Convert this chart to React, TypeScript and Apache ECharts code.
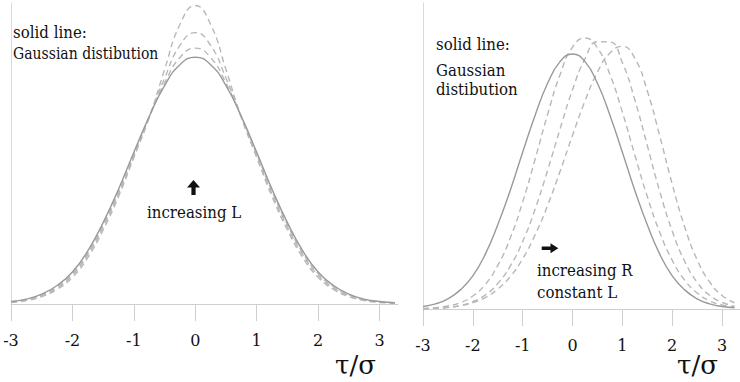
import React, { useEffect, useRef } from "react";
import * as echarts from "echarts";

// τ/σ sample positions
const taus = [-3, -2.75, -2.5, -2.25, -2, -1.75, -1.5, -1.25, -1, -0.75, -0.5, -0.25, 0, 0.25, 0.5, 0.75, 1, 1.25, 1.5, 1.75, 2, 2.25, 2.5, 2.75, 3, 3.25];

// left panel: solid Gaussian and dashed curves for increasing L
const leftSolid = [0.01, 0.02, 0.04, 0.075, 0.13, 0.215, 0.33, 0.465, 0.615, 0.76, 0.885, 0.97, 1.0, 0.97, 0.885, 0.76, 0.615, 0.465, 0.33, 0.215, 0.13, 0.075, 0.04, 0.02, 0.01, 0.005];
const leftDash1 = [0.009, 0.018, 0.037, 0.07, 0.123, 0.207, 0.321, 0.456, 0.607, 0.759, 0.895, 0.999, 1.037, 0.999, 0.895, 0.759, 0.607, 0.456, 0.321, 0.207, 0.123, 0.07, 0.037, 0.018, 0.009, 0.005];
const leftDash2 = [0.008, 0.016, 0.034, 0.065, 0.117, 0.199, 0.312, 0.447, 0.6, 0.758, 0.915, 1.048, 1.1, 1.048, 0.915, 0.758, 0.6, 0.447, 0.312, 0.199, 0.117, 0.065, 0.034, 0.016, 0.008, 0.004];
const leftDash3 = [0.006, 0.014, 0.03, 0.059, 0.108, 0.188, 0.3, 0.435, 0.594, 0.755, 0.95, 1.133, 1.21, 1.133, 0.95, 0.755, 0.594, 0.435, 0.3, 0.188, 0.108, 0.059, 0.03, 0.014, 0.006, 0.003];

// right panel: solid Gaussian and dashed curves for increasing R
const rightSolid = [0.01, 0.02, 0.04, 0.075, 0.13, 0.215, 0.33, 0.465, 0.615, 0.76, 0.885, 0.97, 1.0, 0.97, 0.885, 0.76, 0.615, 0.465, 0.33, 0.215, 0.13, 0.075, 0.04, 0.02, 0.01, 0.005];
const rightDash1 = [0.002, 0.005, 0.012, 0.025, 0.051, 0.097, 0.171, 0.278, 0.42, 0.588, 0.763, 0.919, 1.027, 1.063, 1.024, 0.92, 0.772, 0.604, 0.441, 0.301, 0.191, 0.113, 0.063, 0.032, 0.016, 0.007];
const rightDash2 = [0.001, 0.003, 0.006, 0.014, 0.029, 0.055, 0.1, 0.168, 0.265, 0.392, 0.544, 0.706, 0.86, 0.981, 1.048, 1.047, 0.966, 0.82, 0.641, 0.461, 0.306, 0.187, 0.105, 0.054, 0.026, 0.011];
const rightDash3 = [0.001, 0.003, 0.0065, 0.013, 0.025, 0.045, 0.078, 0.127, 0.197, 0.291, 0.406, 0.54, 0.681, 0.816, 0.929, 1.004, 1.03, 0.983, 0.855, 0.678, 0.49, 0.322, 0.193, 0.106, 0.053, 0.024];

const tickValues = [-3, -2, -1, 0, 1, 2, 3];

const SERIF = "DejaVu Serif";
const SOLID_COLOR = "#9a9a9a";
const DASH_COLOR = "#b8b8b8";
const AXIS_COLOR = "#cfcfcf";

function pairs(vals: number[]) {
  return taus.map((t, i) => [t, vals[i]]);
}

function lineSeries(vals: number[], idx: number, dashed: boolean) {
  return {
    type: "line",
    xAxisIndex: idx,
    yAxisIndex: idx,
    data: pairs(vals),
    smooth: true,
    showSymbol: false,
    silent: true,
    z: dashed ? 2 : 3,
    lineStyle: {
      color: dashed ? DASH_COLOR : SOLID_COLOR,
      width: 1.4,
      type: dashed ? [6, 4] : "solid",
    },
  };
}

function xAxisDef(idx: number, max: number, margin: number) {
  return {
    type: "value",
    gridIndex: idx,
    min: -3,
    max,
    interval: 1,
    axisLine: { show: true, onZero: false, lineStyle: { color: AXIS_COLOR, width: 1 } },
    axisTick: { show: true, length: 17, customValues: tickValues, lineStyle: { color: AXIS_COLOR, width: 1 } },
    axisLabel: {
      show: true,
      customValues: tickValues,
      margin,
      fontFamily: SERIF,
      fontSize: 16,
      color: "#111",
    },
    splitLine: { show: false },
  };
}

function yAxisDef(idx: number, max: number) {
  return {
    type: "value",
    gridIndex: idx,
    min: 0,
    max,
    axisLine: { show: true, onZero: false, lineStyle: { color: "#dadada", width: 1 } },
    axisTick: { show: false },
    axisLabel: { show: false },
    splitLine: { show: false },
  };
}

function txt(text: string, x: number, y: number, size = 15, sy = 1.15) {
  return {
    type: "text",
    x,
    y,
    scaleY: sy,
    silent: true,
    style: {
      text,
      fontFamily: SERIF,
      fontSize: size,
      fill: "#111",
      verticalAlign: "middle",
      align: "left",
    },
  };
}

export default function App() {
  const ref = useRef<HTMLDivElement>(null);

  useEffect(() => {
    document.body.style.margin = "0";
    if (!ref.current) return;
    const chart = echarts.init(ref.current, undefined, { renderer: "svg" });
    chart.setOption({
      animation: false,
      backgroundColor: "#ffffff",
      textStyle: { fontFamily: SERIF },
      grid: [
        { left: 11, top: 3, width: 387, height: 301 },
        { left: 423, top: 3, width: 317, height: 306 },
      ],
      xAxis: [xAxisDef(0, 3.3, 28), xAxisDef(1, 3.36, 28)],
      yAxis: [yAxisDef(0, 1.22), yAxisDef(1, 1.2)],
      series: [
        lineSeries(leftDash1, 0, true),
        lineSeries(leftDash2, 0, true),
        lineSeries(leftDash3, 0, true),
        lineSeries(leftSolid, 0, false),
        lineSeries(rightDash1, 1, true),
        lineSeries(rightDash2, 1, true),
        lineSeries(rightDash3, 1, true),
        lineSeries(rightSolid, 1, false),
      ],
      graphic: [
        txt("solid line:", 13, 32),
        txt("Gaussian distibution", 13, 54, 14),
        txt("increasing L", 147, 212),
        {
          type: "polygon",
          silent: true,
          shape: {
            points: [[193.5, 180], [200, 187.5], [195.6, 187.5], [195.6, 195], [191.4, 195], [191.4, 187.5], [187, 187.5]],
          },
          style: { fill: "#111" },
        },
        txt("solid line:", 436, 44),
        txt("Gaussian", 436, 70),
        txt("distibution", 436, 89),
        txt("increasing R", 537, 270),
        txt("constant L", 537, 292),
        {
          type: "polygon",
          silent: true,
          shape: {
            points: [[558.3, 248.3], [550.5, 243.3], [550.5, 246.5], [541.7, 246.5], [541.7, 250.1], [550.5, 250.1], [550.5, 253.3]],
          },
          style: { fill: "#111" },
        },
        txt("τ/σ", 335, 365, 26, 1),
        txt("τ/σ", 677, 365, 26, 1),
      ],
    });
    return () => chart.dispose();
  }, []);

  return <div ref={ref} style={{ width: 740, height: 382 }} />;
}
